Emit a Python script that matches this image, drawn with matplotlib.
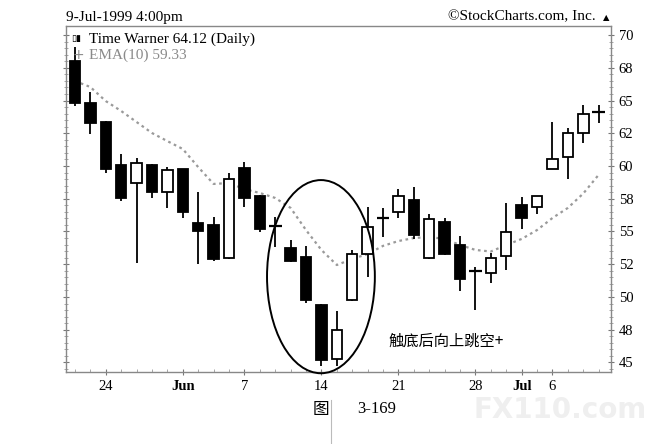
import matplotlib
matplotlib.use('Agg')
import matplotlib.pyplot as plt
from matplotlib.patches import Rectangle, Ellipse

# trading days, 20 May 1999 .. 9 Jul 1999
dates = ['05-20', '05-21', '05-24', '05-25', '05-26', '05-27', '05-28',
         '06-01', '06-02', '06-03', '06-04', '06-07', '06-08', '06-09',
         '06-10', '06-11', '06-14', '06-15', '06-16', '06-17', '06-18',
         '06-21', '06-22', '06-23', '06-24', '06-25', '06-28', '06-29',
         '06-30', '07-01', '07-02', '07-06', '07-07', '07-08', '07-09']
opens = [68.04, 64.79, 63.38, 60.08, 58.73, 60.08, 57.99, 59.75, 55.63, 55.50,
         52.95, 59.82, 57.73, 55.44, 53.76, 53.08, 49.39, 45.24, 49.77, 53.26,
         56.05, 56.51, 57.40, 52.95, 55.75, 53.97, 51.98, 51.80, 53.15, 57.02,
         56.90, 59.77, 60.71, 62.50, 64.12]
highs = [69.10, 65.67, 63.44, 60.89, 60.59, 60.15, 59.95, 59.80, 57.99, 56.13,
         59.44, 60.33, 57.79, 56.13, 54.35, 53.89, 49.47, 48.93, 53.59, 56.89,
         56.77, 58.22, 58.37, 56.34, 56.01, 54.68, 52.30, 53.34, 57.15, 57.61,
         57.71, 63.38, 62.88, 64.66, 64.66]
lows = [64.60, 62.44, 59.44, 57.35, 52.62, 57.53, 56.82, 56.01, 52.50, 52.77,
        52.90, 56.85, 54.94, 53.84, 52.70, 49.52, 44.76, 44.76, 49.70, 51.50,
        54.60, 56.01, 54.40, 52.88, 53.20, 50.48, 49.00, 51.09, 52.06, 55.19,
        56.34, 59.77, 58.98, 61.78, 63.26]
closes = [64.83, 63.31, 59.77, 57.53, 60.21, 57.99, 59.69, 56.47, 55.06, 52.88,
          58.98, 57.53, 55.19, 55.44, 52.75, 49.77, 45.19, 47.48, 53.26, 55.37,
          56.05, 57.73, 54.73, 55.95, 53.28, 51.37, 51.98, 53.00, 54.98, 56.05,
          57.71, 60.53, 62.50, 63.97, 64.12]
ema10 = [66.49, 66.03, 64.96, 64.20, 63.36, 62.52, 61.90, 61.30, 59.92, 58.63,
         58.70, 58.24, 57.94, 57.56, 56.80, 55.11, 53.59, 52.44, 52.90, 53.28,
         53.90, 54.27, 54.50, 54.58, 54.43, 53.97, 53.59, 53.47, 53.97, 54.43,
         55.11, 56.03, 56.80, 57.90, 59.33]

x_tick_pos = [2, 7, 11, 16, 21, 26, 29, 31]
x_tick_labels = ['24', 'Jun', '7', '14', '21', '28', 'Jul', '6']
y_ticks = [45, 47.5, 50, 52.5, 55, 57.5, 60, 62.5, 65, 67.5, 70]
y_tick_labels = ['45', '48', '50', '52', '55', '58', '60', '62', '65', '68', '70']

serif = 'Liberation Serif'
cjk = ['Noto Sans CJK SC', 'DejaVu Sans']
W, H = 655, 444

fig = plt.figure(figsize=(6.55, 4.44), dpi=100)

# faint site watermark, drawn first so it stays behind everything
fig.text(560 / W, 1 - 410 / H, 'FX110.com', fontsize=20, color='#efefef',
         fontweight='bold', ha='center', va='center', zorder=0)

ax = fig.add_axes([66 / W, 1 - 372 / H, (611 - 66) / W, (372 - 26) / H])
ax.patch.set_alpha(0)

body_w = 0.68
for i in range(len(dates)):
    o, h, l, c = opens[i], highs[i], lows[i], closes[i]
    ax.vlines(i, l, h, color='black', lw=1.3, zorder=2)
    if abs(o - c) < 1e-9:
        ax.hlines(o, i - 0.42, i + 0.42, color='black', lw=1.6, zorder=3)
        continue
    bottom = min(o, c)
    fc = 'black' if c < o else 'white'
    ax.add_patch(Rectangle((i - body_w / 2, bottom), body_w, abs(c - o),
                           facecolor=fc, edgecolor='black', lw=1.3, zorder=3))

ax.plot(range(len(dates)), ema10, color='#9a9a9a', lw=1.6,
        linestyle=(0, (1.2, 1.6)), zorder=1)

# circled area around the bottom
ax.add_patch(Ellipse((15.97, 51.55), 7.0, 14.75, fill=False, edgecolor='black',
                     lw=1.4, clip_on=False, zorder=4))
ax.text(20.35, 46.6, '触底后向上跳空+', fontsize=11, family=cjk,
        va='center', ha='left')

ax.set_xlim(-0.58, 34.8)
ax.set_ylim(44.27, 70.69)

ax.yaxis.tick_right()
ax.set_yticks(y_ticks)
ax.set_yticklabels(y_tick_labels, fontfamily=serif, fontsize=10.5)
ax.set_yticks([v / 2 for v in range(89, 141)], minor=True)
ax.set_xticks(x_tick_pos)
ax.set_xticklabels(x_tick_labels, fontfamily=serif, fontsize=10.5)
for lab in ax.get_xticklabels():
    if lab.get_text() in ('Jun', 'Jul'):
        lab.set_fontweight('bold')
ax.set_xticks(range(len(dates)), minor=True)
ax.tick_params(axis='both', which='major', direction='inout', length=5,
               color='#777777', pad=3)
ax.tick_params(axis='y', which='minor', direction='inout', length=3,
               color='#999999', left=True, right=True)
ax.tick_params(axis='x', which='minor', direction='in', length=2, color='#999999')
ax.tick_params(axis='y', which='major', left=True)
ax.xaxis.set_tick_params(pad=3)
for sp in ax.spines.values():
    sp.set_color('#888888')
    sp.set_linewidth(1.0)
    sp.set_linestyle((0, (3, 1)))

# header texts
fig.text(66 / W, 1 - 17 / H, '9-Jul-1999 4:00pm', fontsize=11, family=serif, va='center')
fig.text(596 / W, 1 - 17 / H, '\u00a9StockCharts.com, Inc.', fontsize=11, family=serif,
         va='center', ha='right')
fig.text(606 / W, 1 - 18 / H, '\u25b2', fontsize=6, va='center', ha='center')
fig.text(89 / W, 1 - 39 / H, 'Time Warner 64.12 (Daily)', fontsize=11, family=serif,
         va='center')
fig.text(89 / W, 1 - 55 / H, 'EMA(10) 59.33', fontsize=11, family=serif, va='center',
         color='#8a8a8a')
fig.text(76 / W, 1 - 39 / H, '\u25af\u25ae', fontsize=6.5, va='center', ha='center',
         fontweight='bold')
fig.text(78 / W, 1 - 55 / H, '+', fontsize=10, va='center', ha='center', color='#8a8a8a')

# caption
fig.text(321 / W, 1 - 409 / H, '图', fontsize=12, family=cjk, ha='center', va='center')
fig.text(357 / W, 1 - 409 / H, '3-169', fontsize=12, family=serif, va='center')
fig.add_artist(plt.Line2D([331 / W, 331 / W], [0, 1 - 400 / H], color='#bbbbbb', lw=0.8))

fig.savefig('out.png', dpi=100)
